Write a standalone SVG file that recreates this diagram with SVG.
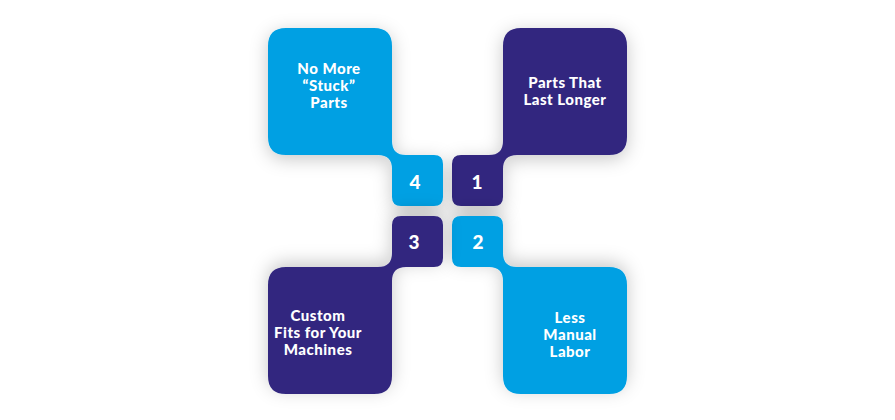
<svg xmlns="http://www.w3.org/2000/svg" width="895" height="420" viewBox="0 0 895 420">
<defs>
<filter id="sh" x="-30%" y="-30%" width="160%" height="160%"><feDropShadow dx="0" dy="4" stdDeviation="9" flood-color="#000" flood-opacity="0.22"/></filter>
<path id="shape" d="M452 164 Q452 155 461 155 H489 Q503 155 503 141 V46 Q503 28 521 28 H609 Q627 28 627 46 V137 Q627 155 609 155 H517 Q503 155 503 169 V197 Q503 206 494 206 H461 Q452 206 452 197 Z"/>
</defs>
<style>
.t{font-family:Lato,"Liberation Sans",sans-serif;font-weight:900;font-size:15px;letter-spacing:0.5px;fill:#fff;text-anchor:middle}
.n{font-family:Lato,"Liberation Sans",sans-serif;font-weight:900;font-size:19px;fill:#fff;text-anchor:middle}
.lb{fill:#00A0E3}.db{fill:#32287F}
</style>
<rect width="895" height="420" fill="#fff"/>
<g id="node1"><use href="#shape" class="db" filter="url(#sh)"/>
<text class="t" x="565" y="88">Parts That</text><text class="t" x="565" y="105">Last Longer</text><text class="n" x="477" y="189">1</text></g>
<g id="node4"><use href="#shape" class="lb" filter="url(#sh)" transform="translate(895,0) scale(-1,1)"/>
<text class="t" x="329" y="74">No More</text><text class="t" x="329" y="91">“Stuck”</text><text class="t" x="329" y="108">Parts</text><text class="n" x="415" y="189">4</text></g>
<g id="node2"><use href="#shape" class="lb" filter="url(#sh)" transform="translate(0,422) scale(1,-1)"/>
<text class="t" x="570" y="323">Less</text><text class="t" x="570" y="340">Manual</text><text class="t" x="570" y="357">Labor</text><text class="n" x="478" y="249">2</text></g>
<g id="node3"><use href="#shape" class="db" filter="url(#sh)" transform="translate(895,422) scale(-1,-1)"/>
<text class="t" x="318" y="321">Custom</text><text class="t" x="318" y="338">Fits for Your</text><text class="t" x="318" y="355">Machines</text><text class="n" x="414" y="249">3</text></g>
<g id="connectors"/>
</svg>
